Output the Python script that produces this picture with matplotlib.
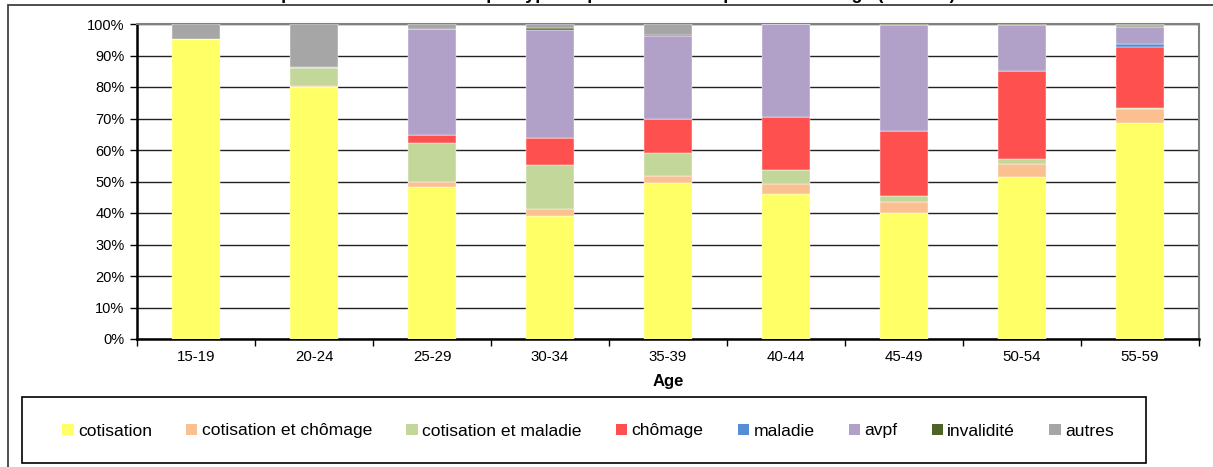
import matplotlib
matplotlib.use("Agg")
import matplotlib.pyplot as plt
from matplotlib.patches import Rectangle
import numpy as np

plt.rcParams['font.family'] = ['Liberation Sans', 'DejaVu Sans']

categories = ["15-19", "20-24", "25-29", "30-34", "35-39", "40-44", "45-49", "50-54", "55-59"]
cotisation = [95.2, 79.9, 48.4, 39.0, 49.6, 46.0, 40.1, 51.5, 68.7]
cotisation_chomage = [0.0, 0.3, 1.3, 2.4, 2.3, 3.1, 3.4, 4.1, 4.2]
cotisation_maladie = [0.0, 5.7, 12.4, 13.8, 7.0, 4.7, 1.9, 1.4, 0.3]
chomage = [0.0, 0.6, 2.7, 8.7, 10.9, 16.8, 20.7, 28.2, 19.6]
maladie = [0.0, 0.0, 0.0, 0.0, 0.0, 0.0, 0.0, 0.0, 0.7]
avpf = [0.0, 0.0, 33.5, 34.3, 26.5, 29.3, 33.7, 14.6, 5.6]
invalidite = [0.0, 0.0, 0.0, 0.4, 0.3, 0.1, 0.2, 0.2, 0.3]
autres = [4.8, 13.5, 1.7, 1.4, 3.4, 0.0, 0.0, 0.0, 0.6]

series = [
    ("cotisation", cotisation, "#FFFF66"),
    ("cotisation et chômage", cotisation_chomage, "#FAC090"),
    ("cotisation et maladie", cotisation_maladie, "#C4D79B"),
    ("chômage", chomage, "#FF5050"),
    ("maladie", maladie, "#558ED5"),
    ("avpf", avpf, "#B1A0C7"),
    ("invalidité", invalidite, "#4F6228"),
    ("autres", autres, "#A6A6A6"),
]

W, H = 1213, 467
fig = plt.figure(figsize=(W / 100, H / 100), dpi=100)

# outer chart border (extends beyond the image on right and bottom)
fig.patches.append(Rectangle((8 / W, -0.05), 1.2, (H - 4.5) / H + 0.05,
                             transform=fig.transFigure, fill=False,
                             edgecolor="#404040", linewidth=1.3))

# title, cut off at the top edge as in the reference (only descenders visible)
fig.text(0.5, 1 + 1.0 / H, "Répartition des trimestres par type de période validée par tranche d'âge (en 2007)",
         ha="center", va="baseline", fontsize=13, fontweight="bold")

ax = fig.add_axes([137 / W, (H - 339) / H, 1062 / W, 315 / H])
x = np.arange(len(categories))
bottom = np.zeros(len(categories))
for name, vals, col in series:
    v = np.array(vals)
    ax.bar(x, v, width=0.4, bottom=bottom, color=col, label=name,
           edgecolor="white", linewidth=0.3, zorder=3)
    bottom += v

ax.set_xlim(-0.5, len(categories) - 0.5)
ax.set_ylim(0, 100)
ax.set_yticks(np.arange(0, 101, 10))
ax.set_yticklabels([f"{t}%" for t in range(0, 101, 10)], fontsize=10.5)
ax.yaxis.grid(True, color="#222222", linewidth=1.0, zorder=0)
ax.set_axisbelow(True)

ax.set_xticks(x)
ax.set_xticklabels(categories, fontsize=10.8)
ax.tick_params(axis="x", length=0, pad=8)
ax.set_xticks(np.arange(-0.5, len(categories)), minor=True)
ax.tick_params(axis="x", which="minor", length=5, width=1, direction="out")
ax.tick_params(axis="y", length=5, width=1, direction="out", pad=4)

ax.set_xlabel("Age", fontsize=12, fontweight="bold", labelpad=7)

for s in ["left", "bottom"]:
    ax.spines[s].set_color("black")
    ax.spines[s].set_linewidth(1.8)
for s in ["top", "right"]:
    ax.spines[s].set_color("#808080")
    ax.spines[s].set_linewidth(1.5)

leg = fig.legend(loc="center", bbox_to_anchor=(588 / W, 1 - 431 / H), ncol=8,
                 frameon=False, fontsize=12.6, handlelength=0.65, handleheight=0.65,
                 handletextpad=0.25, columnspacing=1.95)
for h in leg.legend_handles:
    h.set_edgecolor("none")

fig.patches.append(Rectangle((22 / W, 1 - 462.7 / H), (1146 - 22) / W, 66 / H,
                             transform=fig.transFigure, fill=False,
                             edgecolor="black", linewidth=1.2))

fig.savefig("out.png", dpi=100)
